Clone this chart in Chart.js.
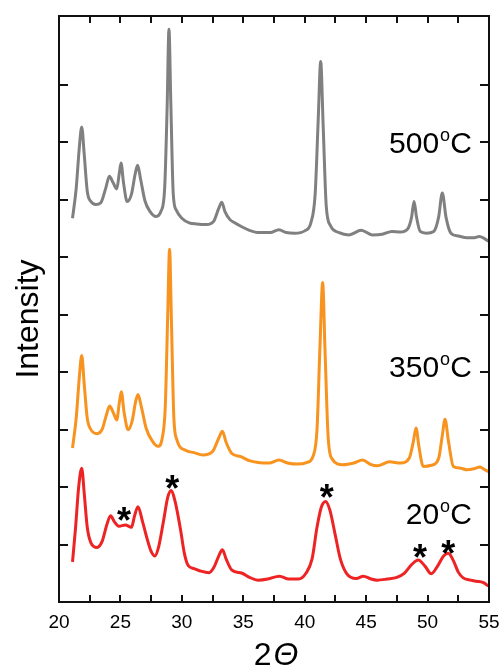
<!DOCTYPE html>
<html>
<head>
<meta charset="utf-8">
<title>XRD patterns</title>
<script src="https://cdn.jsdelivr.net/npm/chart.js@4.4.1/dist/chart.umd.min.js"></script>
<style>
    body { margin: 0; background: #fff; }
    canvas { display: block; }
</style>
</head>
<body>
<canvas id="xrdChart" width="500" height="667"></canvas>
<script>
// 2-theta positions and intensities (offset units)
var gray2Theta = [21.1, 21.4, 21.65, 21.85, 22.05, 22.3, 22.6, 23.0, 23.4, 23.8, 24.1, 24.4, 24.7, 24.9, 25.05, 25.25, 25.55, 25.9, 26.2, 26.4, 26.65, 27.0, 27.4, 27.9, 28.3, 28.6, 28.8, 28.95, 29.1, 29.3, 29.55, 30.0, 30.6, 31.2, 32.0, 32.6, 33.0, 33.25, 33.5, 33.9, 34.3, 34.8, 35.5, 36.3, 37.2, 37.9, 38.5, 39.2, 40.0, 40.5, 40.85, 41.1, 41.3, 41.5, 41.75, 42.1, 42.8, 43.6, 44.6, 45.5, 46.3, 47.1, 47.8, 48.4, 48.7, 48.9, 49.1, 49.4, 49.9, 50.5, 50.9, 51.2, 51.5, 51.9, 52.5, 53.2, 53.8, 54.2, 54.6, 54.95];
var grayI = [6.68, 7.2, 7.9, 8.27, 7.8, 7.15, 6.97, 6.92, 6.95, 7.2, 7.41, 7.3, 7.19, 7.45, 7.64, 7.3, 6.97, 7.1, 7.45, 7.6, 7.35, 6.98, 6.8, 6.71, 6.8, 7.2, 8.6, 9.97, 8.7, 7.1, 6.82, 6.68, 6.6, 6.58, 6.57, 6.63, 6.85, 6.96, 6.8, 6.66, 6.6, 6.54, 6.47, 6.43, 6.43, 6.48, 6.43, 6.42, 6.46, 6.6, 7.1, 8.4, 9.41, 8.3, 6.9, 6.55, 6.43, 6.39, 6.47, 6.39, 6.4, 6.45, 6.44, 6.5, 6.7, 6.97, 6.7, 6.45, 6.42, 6.45, 6.7, 7.12, 6.7, 6.42, 6.37, 6.34, 6.34, 6.36, 6.33, 6.28];

var orange2Theta = [21.1, 21.4, 21.65, 21.85, 22.05, 22.3, 22.6, 23.1, 23.5, 23.85, 24.12, 24.45, 24.7, 24.9, 25.07, 25.3, 25.62, 25.95, 26.25, 26.43, 26.7, 27.1, 27.6, 28.06, 28.4, 28.65, 28.85, 29.0, 29.15, 29.35, 29.6, 30.3, 31.0, 31.7, 32.5, 33.0, 33.3, 33.6, 34.05, 34.8, 35.5, 36.2, 37.1, 37.9, 38.6, 39.4, 40.2, 40.7, 41.0, 41.25, 41.46, 41.65, 41.9, 42.2, 43.1, 44.0, 44.7, 45.4, 45.9, 46.9, 47.8, 48.5, 48.85, 49.06, 49.3, 49.65, 50.3, 50.9, 51.2, 51.42, 51.7, 52.1, 52.7, 53.2, 53.8, 54.27, 54.6, 54.94];
var orangeI = [2.68, 3.2, 3.9, 4.29, 3.8, 3.2, 3.0, 2.93, 3.0, 3.25, 3.41, 3.28, 3.17, 3.45, 3.66, 3.3, 3.0, 3.15, 3.5, 3.61, 3.4, 3.02, 2.8, 2.71, 2.85, 3.4, 5.0, 6.14, 4.9, 3.2, 2.82, 2.64, 2.6, 2.56, 2.62, 2.85, 2.97, 2.78, 2.59, 2.53, 2.46, 2.43, 2.42, 2.47, 2.42, 2.4, 2.43, 2.55, 3.0, 4.5, 5.56, 4.4, 2.9, 2.5, 2.39, 2.42, 2.47, 2.39, 2.37, 2.44, 2.42, 2.5, 2.8, 3.03, 2.7, 2.36, 2.38, 2.5, 2.9, 3.18, 2.8, 2.36, 2.33, 2.3, 2.32, 2.35, 2.31, 2.27];

var red2Theta = [21.1, 21.35, 21.6, 21.85, 22.05, 22.3, 22.6, 23.1, 23.5, 23.9, 24.2, 24.5, 24.88, 25.4, 25.9, 26.15, 26.43, 26.8, 27.2, 27.5, 27.8, 28.1, 28.5, 28.85, 29.14, 29.45, 29.9, 30.2, 30.5, 31.0, 31.5, 32.2, 32.6, 33.0, 33.3, 33.6, 34.05, 34.9, 35.5, 36.2, 37.0, 37.95, 38.7, 39.5, 40.1, 40.6, 41.0, 41.35, 41.7, 42.05, 42.5, 42.9, 43.4, 44.2, 44.77, 45.4, 45.9, 46.7, 47.5, 48.1, 48.7, 49.25, 49.8, 50.3, 50.8, 51.3, 51.69, 52.1, 52.5, 52.9, 53.5, 54.0, 54.5, 54.95];
var redI = [0.7, 1.3, 2.0, 2.33, 1.9, 1.3, 1.03, 0.95, 1.05, 1.35, 1.5, 1.4, 1.32, 1.34, 1.3, 1.5, 1.66, 1.4, 1.08, 0.88, 0.8, 0.95, 1.4, 1.82, 1.94, 1.75, 1.25, 0.85, 0.64, 0.58, 0.54, 0.51, 0.6, 0.8, 0.91, 0.75, 0.56, 0.5, 0.43, 0.38, 0.4, 0.45, 0.4, 0.4, 0.5, 0.75, 1.3, 1.65, 1.75, 1.6, 1.15, 0.75, 0.5, 0.41, 0.45, 0.4, 0.38, 0.4, 0.43, 0.5, 0.65, 0.73, 0.62, 0.49, 0.62, 0.8, 0.85, 0.72, 0.52, 0.42, 0.38, 0.36, 0.34, 0.28];

// temperature labels (right edge x, centre y)
var tempLabels = ['500', '350', '20'];
var tempLabelX = [53.6, 53.6, 53.6];
var tempLabelY = [8.0, 4.11, 1.55];

// asterisks marking the 20 C reflections
var star2Theta = [25.3, 29.22, 41.79, 49.38, 51.69];
var starI = [1.56, 2.11, 1.95, 0.91, 0.99];

var xTickStep = 2.5;
var yTickStep = 1;
var xTitle = ['2', '\u0398'];
var yTitle = 'Intensity';

var fontFamily = '"Liberation Sans", Arial, sans-serif';

function toPoints(xs, ys) {
    return xs.map(function (x, i) { return { x: x, y: ys[i] }; });
}

// inward ticks on all four sides, the frame, axis titles and annotations
var framePlugin = {
    id: 'frame',
    afterDatasetsDraw: function (chart) {
        var ctx = chart.ctx;
        var a = chart.chartArea;
        var xs = chart.scales.x;
        var ys = chart.scales.y;
        var tick = 7;
        ctx.save();
        ctx.strokeStyle = '#111';
        ctx.lineWidth = 2;
        ctx.beginPath();
        xs.ticks.forEach(function (t) {
            var px = Math.round(xs.getPixelForValue(t.value));
            ctx.moveTo(px, a.bottom); ctx.lineTo(px, a.bottom - tick);
            ctx.moveTo(px, a.top); ctx.lineTo(px, a.top + tick);
        });
        ys.ticks.forEach(function (t) {
            if (Math.abs(t.value - Math.round(t.value)) > 1e-6) return;
            var py = Math.round(ys.getPixelForValue(t.value));
            ctx.moveTo(a.left, py); ctx.lineTo(a.left + tick + 2, py);
            ctx.moveTo(a.right, py); ctx.lineTo(a.right - tick - 2, py);
        });
        ctx.stroke();
        ctx.strokeRect(a.left, a.top, a.right - a.left, a.bottom - a.top);

        ctx.fillStyle = '#000';
        ctx.textBaseline = 'alphabetic';

        // x title: upright 2, italic theta
        var mid = (a.left + a.right) / 2 + 2;
        ctx.font = '32px ' + fontFamily;
        var w2 = ctx.measureText(xTitle[0]).width;
        ctx.font = 'italic 32px ' + fontFamily;
        var wT = ctx.measureText(xTitle[1]).width;
        var sx = mid - (w2 + 2 + wT) / 2;
        ctx.font = '32px ' + fontFamily;
        ctx.textAlign = 'left';
        ctx.fillText(xTitle[0], sx, 665);
        ctx.font = 'italic 32px ' + fontFamily;
        ctx.fillText(xTitle[1], sx + w2 + 2, 665);

        // y title
        ctx.save();
        ctx.translate(38, 319);
        ctx.rotate(-Math.PI / 2);
        ctx.textAlign = 'center';
        ctx.font = '32px ' + fontFamily;
        ctx.fillText(yTitle, 0, 0);
        ctx.restore();

        // temperature labels with superscript o
        var big = '30px ' + fontFamily;
        var small = '18px ' + fontFamily;
        ctx.textAlign = 'left';
        tempLabels.forEach(function (txt, i) {
            var right = xs.getPixelForValue(tempLabelX[i]);
            var base = ys.getPixelForValue(tempLabelY[i]) + 11;
            ctx.font = big;
            var wNum = ctx.measureText(txt).width;
            var wC = ctx.measureText('C').width;
            ctx.font = small;
            var wO = ctx.measureText('o').width;
            var x0 = right - wC - wO - 1 - wNum;
            ctx.font = big;
            ctx.fillText(txt, x0, base);
            ctx.font = small;
            ctx.fillText('o', x0 + wNum + 1, base - 12);
            ctx.font = big;
            ctx.fillText('C', x0 + wNum + wO + 1, base);
        });

        // asterisks
        ctx.font = 'bold 36px ' + fontFamily;
        ctx.textAlign = 'center';
        star2Theta.forEach(function (x, i) {
            var px = xs.getPixelForValue(x);
            var py = ys.getPixelForValue(starI[i]);
            ctx.fillText('*', px, py + 0.57 * 36);
        });
        ctx.restore();
    }
};

var ctx1 = document.getElementById('xrdChart').getContext('2d');
new Chart(ctx1, {
    type: 'line',
    data: {
        datasets: [{
            label: '500 C',
            data: toPoints(gray2Theta, grayI),
            borderColor: 'rgb(128, 128, 128)',
            borderWidth: 3
        }, {
            label: '350 C',
            data: toPoints(orange2Theta, orangeI),
            borderColor: 'rgb(247, 147, 30)',
            borderWidth: 3
        }, {
            label: '20 C',
            data: toPoints(red2Theta, redI),
            borderColor: 'rgb(237, 35, 36)',
            borderWidth: 3
        }]
    },
    options: {
        responsive: false,
        animation: false,
        cubicInterpolationMode: 'monotone',
        elements: { point: { radius: 0 } },
        layout: { padding: { top: 16, right: 11, left: 0, bottom: 0 } },
        plugins: {
            legend: { display: false },
            tooltip: { enabled: false }
        },
        scales: {
            x: {
                type: 'linear',
                min: 20,
                max: 55,
                grid: { display: false, drawTicks: false },
                border: { display: false },
                ticks: {
                    stepSize: xTickStep,
                    padding: 9,
                    maxRotation: 0,
                    autoSkip: false,
                    color: '#000',
                    font: { size: 19, family: fontFamily },
                    callback: function (v) { return v % 5 === 0 ? String(v) : ''; }
                },
                afterFit: function (scale) {
                    scale.height = 65;
                    // keep the edge labels from shrinking the plot area
                    scale.paddingLeft = 0;
                    scale.paddingRight = 0;
                }
            },
            y: {
                min: 0,
                max: 10.2,
                grid: { display: false, drawTicks: false },
                border: { display: false },
                ticks: { stepSize: yTickStep, display: false },
                afterFit: function (scale) { scale.width = 59; }
            }
        }
    },
    plugins: [framePlugin]
});
</script>
</body>
</html>
